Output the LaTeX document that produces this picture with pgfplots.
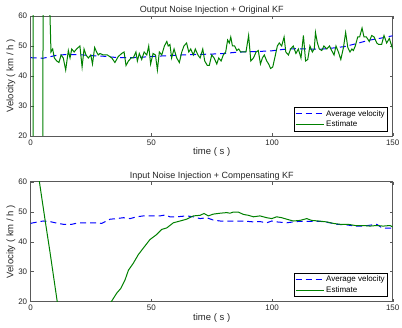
\documentclass[border=0pt]{standalone}
\usepackage{fontspec}
\setmainfont{Liberation Sans}
\usepackage{pgfplots}
\pgfplotsset{compat=1.18}

\definecolor{mgreen}{rgb}{0,0.5,0}
\definecolor{mblue}{rgb}{0,0,1}

\pgfplotsset{
  kfstyle/.style={
    scale only axis,
    width=362pt, height=120pt,
    xmin=0, xmax=150, ymin=20, ymax=60,
    xtick={0,50,100,150}, ytick={20,30,40,50,60},
    tick align=inside, tickpos=both,
    major tick length=3pt,
    axis line style={black!65, line width=0.5pt},
    every tick/.style={black!65, line width=0.4pt},
    tick label style={font=\fontsize{8}{9}\selectfont, black!85},
    /pgf/number format/assume math mode=true,
    xlabel={time ( s )}, ylabel={Velocity ( km / h )},
    label style={font=\fontsize{9.5}{11}\selectfont, black!85},
    title style={font=\fontsize{9}{10}\selectfont, black!85, yshift=-8pt},
    xlabel style={yshift=4pt},
    ylabel style={yshift=-4pt},
    legend cell align=left,
    legend style={font=\fontsize{8}{9}\selectfont, draw=black, line width=0.5pt,
      inner sep=1pt, row sep=-1pt, at={(0.987,0.04)}, anchor=south east},
    legend image code/.code={\draw[#1, line width=1pt] (0pt,0pt) -- (28pt,0pt);},
    clip=true,
  },
}

\begin{document}
\begin{tikzpicture}
\useasboundingbox (0,0) rectangle (402pt,327pt);

% top panel
\begin{axis}[kfstyle, at={(30.7pt,191pt)}, anchor=south west,
  title={Output Noise Injection + Original KF}]
\addplot[mblue, line width=1pt, dash pattern=on 6pt off 4pt] coordinates {
(0,46.1) (5,45.9) (8,46.4) (10,46.8) (15,47.2) (20,47.1) (25,46.8) (30,46.6)
(35,46.2) (40,46.1) (45,46.2) (50,46.5) (55,46.7) (60,46.9) (65,47.1) (70,47.2)
(75,47.3) (80,47.5) (85,47.9) (90,48.1) (95,48.2) (100,48.4) (105,48.9) (110,49.1)
(115,49.0) (120,48.9) (125,49.3) (130,49.8) (135,50.8) (140,51.9) (145,52.6) (150,53.4)
};
\addlegendentry{Average velocity}
\addplot[mgreen, line width=1pt] coordinates {
(0,5000) (1,0) (2,-200) (3,-100) (4,-100) (5,0) (6,500) (7,90)
(8.4,48) (9.1,49) (9.8,46) (10.8,45) (11.7,44.5) (12.6,47) (13.5,46) (14.5,42)
(15.6,48.5) (16.3,46) (17,49) (18,48) (19,49) (20.4,50) (21.3,43) (22.1,49)
(22.9,47) (23.9,46) (24.9,47) (25.6,44) (26.5,49.5) (27.3,48) (28,47) (28.7,47.5)
(30.1,47) (31.8,47) (33.6,46) (34.9,44.5) (36.3,46.5) (37.7,47.5) (38.7,48) (39.5,43.5)
(40.5,45) (41.6,46) (42.5,46) (43.6,48) (44.2,45) (45,47.5) (46,45.5) (47,48)
(48.1,47) (48.9,50) (49.7,44) (50.7,47.5) (51.7,47) (52.5,42) (53.3,48) (54.3,47)
(55.4,50) (56.4,51.5) (57,50) (57.7,50.5) (58.4,46) (59.4,49) (60.5,46) (61.6,44.5)
(62.6,48) (63.5,50) (64.6,51) (65.5,48) (66.3,49) (67.4,47) (68.2,49) (69.3,47)
(70.2,46) (71.3,49) (72.1,45) (73.2,43.5) (74,43.5) (75,47) (76,46) (77.1,44)
(77.9,46) (78.9,45) (79.8,47) (80.8,48) (81.6,52) (82.3,51) (82.9,53) (83.6,50)
(84.5,50) (85.4,48.5) (86.2,49) (87,48) (88.1,48) (89.2,48) (90.3,53.5) (91.2,45)
(92.3,46) (93.4,48) (94.3,48.5) (95.2,44) (96,46) (96.8,47) (97.8,45) (98.6,44)
(99.4,42.5) (100.3,43) (101.4,47) (102.2,50) (103,51) (104,50) (105,53) (105.7,48)
(106.8,47) (107.7,49) (108.8,50) (109.9,47.5) (110.9,49) (112,46) (113,53.5) (113.9,45)
(114.8,45.5) (115.7,50) (116.7,48) (117.5,49) (118,54.5) (118.8,51) (119.6,49) (120.6,48.5)
(121.5,50) (122.7,49) (123.8,50) (124.7,48.5) (125.7,47) (126.5,50) (127.5,48) (128.5,45.5)
(129.6,49.5) (130.5,54.5) (131.4,49.5) (132.3,48) (133.1,49) (133.7,48.5) (134.5,50) (135.5,53)
(136.3,53) (137.3,56) (138.1,53) (139.1,53) (140.3,51.5) (141.3,53.5) (142.3,53) (143.4,51)
(144.2,50.5) (145.4,50.5) (146.4,53.5) (147.5,51) (148.6,52.5) (149.6,50) (150,49)
};
\addlegendentry{Estimate}
\end{axis}

% bottom panel
\begin{axis}[kfstyle, at={(30.7pt,25.3pt)}, anchor=south west,
  title={Input Noise Injection + Compensating KF}]
\addplot[mblue, line width=1pt, dash pattern=on 6pt off 4pt] coordinates {
(0,46.1) (1,46.3) (5.2,46.9) (8,46.7) (10.8,46.2) (13.5,45.8) (17,45.8) (19.8,46.3)
(23.2,46.3) (27.3,46.3) (29.4,46.1) (32.9,47.5) (35.6,47.7) (38.4,48) (41.2,47.7) (43.9,48.3)
(46.7,48.6) (50.8,48.6) (53.6,48.6) (55.7,48.9) (57.7,48.3) (60.5,48.3) (64.6,48.6) (67.4,48.3)
(70.2,47.7) (72.9,48) (75.7,47.2) (78.5,46.9) (84,46.9) (88.1,46.9) (92.3,46.6) (95,46.7)
(97.8,46.3) (99.9,46.9) (101.9,46.6) (106.1,46.3) (108.8,46.6) (111.6,46.8) (115.7,46.8) (119.9,46.8)
(124,46.3) (126.8,45.8) (130.9,45.6) (134.4,45.2) (137.8,45.2) (140.6,45.5) (143.4,45.8) (145.4,44.7)
(147.5,44.5) (150,44.5)
};
\addlegendentry{Average velocity}
\addplot[mgreen, line width=1pt] coordinates {
(0,83) (2,70.5) (3.6,60) (6,47) (8,36.5) (10,25.5) (11,20) (12,15)
(16,0) (20,-8) (24,-8) (28,0) (31,11) (33.4,20) (35.6,22.8) (37.3,24.4)
(39.1,27.3) (40.5,30.5) (42.5,32.8) (44.6,35.7) (46.7,37.9) (49.4,40.7) (52.2,42.4) (54.3,44.1)
(56.4,44.6) (59.1,46.3) (61.9,46.9) (64.6,47.5) (67.4,48.6) (70.2,48.8) (71.8,49.4) (73.6,48.6)
(75.7,49.2) (78.5,49.5) (81.2,49.7) (82.6,49.5) (84,49.9) (86,49.9) (88.1,49.1) (90.2,48.8)
(92.3,48.3) (95,48.6) (97.8,48) (99.9,47.7) (101.9,48.3) (104,48) (106.1,47.5) (108.8,46.9)
(111.6,47.1) (114.4,47.7) (116.4,47.1) (119.2,46.9) (122.7,46.6) (125.4,46.1) (128.2,45.8) (131.6,45.8)
(134.4,45.4) (137.8,45.4) (140.6,45.2) (143.4,45.4) (146.1,45.2) (148.9,45.4) (150,44.9)
};
\addlegendentry{Estimate}
\end{axis}
\end{tikzpicture}
\end{document}
